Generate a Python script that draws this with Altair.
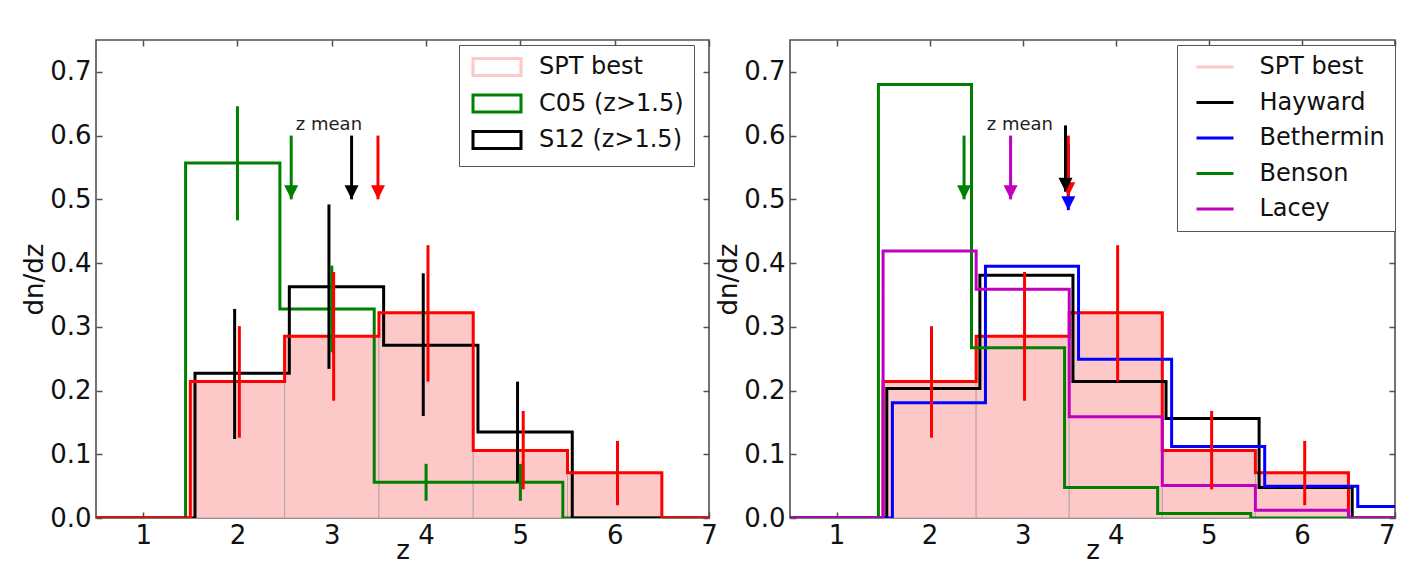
import altair as alt
import pandas as pd

FONT = "DejaVu Sans"
W_LEFT, W_RIGHT, H = 613, 605, 478

X_DOMAIN = [0.5, 7.0]
Y_DOMAIN = [0.0, 0.75]
X_TICKS = [1, 2, 3, 4, 5, 6, 7]
Y_TICKS = [0.0, 0.1, 0.2, 0.3, 0.4, 0.5, 0.6, 0.7]

RED, GREEN, BLACK, BLUE, MAG = "#ff0000", "#008000", "#000000", "#0000ff", "#bf00bf"
PINK = "#fcc8c8"

# ---- SPT best (both panels) ----
spt_name = "SPT best"
spt_edges = [1.5, 2.5, 3.5, 4.5, 5.5, 6.5]
spt_vals = [0.214, 0.285, 0.322, 0.106, 0.071]
spt_err_x = [2.02, 3.02, 4.02, 5.03, 6.03]
spt_err_lo = [0.126, 0.184, 0.214, 0.045, 0.020]
spt_err_hi = [0.301, 0.386, 0.428, 0.168, 0.121]

# ---- left panel ----
c05_name = "C05 (z>1.5)"
c05_edges = [1.45, 2.45, 3.45, 4.45, 5.45]
c05_vals = [0.557, 0.328, 0.056, 0.056]
c05_err_x = [2.0, 3.0, 4.0, 5.0]
c05_err_lo = [0.467, 0.260, 0.027, 0.027]
c05_err_hi = [0.646, 0.396, 0.085, 0.085]

s12_name = "S12 (z>1.5)"
s12_edges = [1.55, 2.55, 3.55, 4.55, 5.55]
s12_vals = [0.227, 0.363, 0.271, 0.135]
s12_err_x = [1.97, 2.97, 3.97, 4.97]
s12_err_lo = [0.124, 0.234, 0.160, 0.056]
s12_err_hi = [0.328, 0.492, 0.384, 0.214]

left_mean_names = [c05_name, s12_name, spt_name]
left_mean_z = [2.57, 3.21, 3.49]
left_mean_top = [0.60, 0.60, 0.60]
left_mean_tip = [0.50, 0.50, 0.50]

# ---- right panel ----
hay_name, bet_name, ben_name, lac_name = "Hayward", "Bethermin", "Benson", "Lacey"
hay_edges = [1.54, 2.54, 3.54, 4.54, 5.54, 6.54]
hay_vals = [0.203, 0.381, 0.214, 0.156, 0.048]
bet_edges = [1.6, 2.6, 3.6, 4.6, 5.6, 6.6, 7.6]
bet_vals = [0.181, 0.395, 0.249, 0.112, 0.050, 0.018]
ben_edges = [1.45, 2.45, 3.45, 4.45, 5.45]
ben_vals = [0.680, 0.267, 0.048, 0.007]
lac_edges = [1.5, 2.5, 3.5, 4.5, 5.5, 6.5]
lac_vals = [0.419, 0.359, 0.159, 0.051, 0.012]

right_mean_names = [ben_name, lac_name, bet_name, spt_name, hay_name]
right_mean_z = [2.37, 2.87, 3.49, 3.49, 3.46]
right_mean_top = [0.60, 0.60, 0.587, 0.60, 0.616]
right_mean_tip = [0.50, 0.50, 0.483, 0.505, 0.512]

note_x = [2.97]
note_y = [0.617]
note_text = ["z mean"]

# legend symbol outlines (unit = 5 px at symbolSize 100), drawn as open strokes
OPEN_RECT = "M-5.1,-1.7H5.1M4.8,-2V2M5.1,1.7H-5.1M-4.8,2V-2"
LINE_PATH = "M-3.7,0H3.7"
HEAD_PATH = "M-1,-1H1L0,1Z"


def step_table(series):
    rows = []
    for name, edges, vals in series:
        xs = [X_DOMAIN[0]] + list(edges)
        ys = [0.0] + list(vals) + [0.0]
        if edges[-1] < X_DOMAIN[1]:
            xs.append(X_DOMAIN[1])
            ys.append(0.0)
        for x, y in zip(xs, ys):
            rows.append({"series": name, "x": x, "y": y})
    return pd.DataFrame(rows)


def err_table(series):
    rows = []
    for name, ex, lo, hi in series:
        for a, b, c in zip(ex, lo, hi):
            rows.append({"series": name, "ex": a, "lo": b, "hi": c})
    return pd.DataFrame(rows)


def make_axes(width, flush_last):
    x_main = alt.Axis(orient="bottom", values=X_TICKS, format="d", ticks=False,
                      domain=False, grid=False, labelFlush=flush_last, labelOverlap=False,
                      labelFontSize=26, labelPadding=4, title="z", titleFontSize=26,
                      titlePadding=-11, titleFontWeight="normal")
    x_in_bot = alt.Axis(orient="top", offset=-H, values=X_TICKS, labels=False, ticks=True,
                        tickSize=6, domain=False, grid=False, title=None)
    x_in_top = alt.Axis(orient="bottom", offset=-H, values=X_TICKS, labels=False, ticks=True,
                        tickSize=6, domain=False, grid=False, title=None)
    y_main = alt.Axis(orient="left", values=Y_TICKS, format=".1f", ticks=False,
                      domain=False, grid=False, labelFlush=False, labelOverlap=False,
                      labelFontSize=26, labelPadding=5, title="dn/dz", titleFontSize=26,
                      titlePadding=2, titleFontWeight="normal")
    y_in_left = alt.Axis(orient="right", offset=-width, values=Y_TICKS, labels=False,
                         ticks=True, tickSize=6, domain=False, grid=False, title=None)
    y_in_right = alt.Axis(orient="left", offset=-width, values=Y_TICKS, labels=False,
                          ticks=True, tickSize=6, domain=False, grid=False, title=None)
    return x_main, x_in_bot, x_in_top, y_main, y_in_left, y_in_right


def panel(width, model_steps, spt_first, errs, means, names, vals, legend_colors, symbol,
          leg_pos, row_pad, label_off, flush_last):
    xs = alt.Scale(domain=X_DOMAIN, nice=False, zero=False)
    ys = alt.Scale(domain=Y_DOMAIN, nice=False, zero=False)
    sscale = alt.Scale(domain=names, range=vals)
    lscale = alt.Scale(domain=names, range=legend_colors)
    x_main, x_in_bot, x_in_top, y_main, y_in_left, y_in_right = make_axes(width, flush_last)

    bars_df = pd.DataFrame({"x0": spt_edges[:-1], "x1": spt_edges[1:], "v": spt_vals})
    bars = alt.Chart(bars_df).mark_rect(fill=PINK, stroke="#b9a6a6", strokeWidth=1).encode(
        x=alt.X("x0:Q", scale=xs, axis=x_main),
        x2="x1:Q",
        y=alt.Y("v:Q", scale=ys, axis=y_main),
        y2=alt.datum(0),
    )

    spt_line = alt.Chart(step_table([(spt_name, spt_edges, spt_vals)])).mark_line(
        interpolate="step-after", strokeWidth=3, clip=True, color=RED).encode(
        x=alt.X("x:Q", scale=xs, axis=None),
        y=alt.Y("y:Q", scale=ys, axis=None),
    )

    legend = alt.Legend(title=None, orient="none", legendX=leg_pos[0], legendY=leg_pos[1],
                        labelFont=FONT, labelFontSize=24, labelColor="#111", labelLimit=400,
                        symbolType=symbol, symbolSize=100, symbolStrokeWidth=3,
                        symbolOffset=16, labelOffset=label_off, padding=10,
                        rowPadding=row_pad, strokeColor="#555", fillColor="white")
    lines = alt.Chart(step_table(model_steps)).mark_line(
        interpolate="step-after", strokeWidth=3, clip=True).encode(
        x=alt.X("x:Q", scale=xs, axis=x_in_bot),
        y=alt.Y("y:Q", scale=ys, axis=y_in_left),
        color=alt.Color("series:N", scale=lscale, legend=legend),
    )

    ebars = alt.Chart(err_table(errs)).mark_rule(strokeWidth=3).encode(
        x=alt.X("ex:Q", scale=xs, axis=x_in_top),
        y=alt.Y("lo:Q", scale=ys, axis=y_in_right),
        y2="hi:Q",
        stroke=alt.Stroke("series:N", scale=sscale, legend=None),
    )

    mnames, mz, mtop, mtip = means
    mean_df = pd.DataFrame({"series": mnames, "az": mz, "atop": mtop, "atip": mtip})
    shafts = alt.Chart(mean_df).mark_rule(strokeWidth=3).encode(
        x=alt.X("az:Q", scale=xs, axis=None),
        y=alt.Y("atop:Q", scale=ys, axis=None),
        y2="atip:Q",
        stroke=alt.Stroke("series:N", scale=sscale, legend=None),
    )
    heads = alt.Chart(mean_df).mark_point(shape=HEAD_PATH, size=196, filled=True,
                                          opacity=1, strokeWidth=0, yOffset=-7).encode(
        x=alt.X("az:Q", scale=xs, axis=None),
        y=alt.Y("atip:Q", scale=ys, axis=None),
        fill=alt.Fill("series:N", scale=sscale, legend=None),
    )

    note_df = pd.DataFrame({"nx": note_x, "ny": note_y, "nt": note_text})
    note = alt.Chart(note_df).mark_text(fontSize=18, font=FONT, color="#222",
                                        align="center", baseline="middle").encode(
        x=alt.X("nx:Q", scale=xs, axis=None),
        y=alt.Y("ny:Q", scale=ys, axis=None),
        text="nt:N",
    )

    if spt_first:
        layers = [bars, spt_line, lines]
    else:
        layers = [bars, lines, spt_line]
    layers += [ebars, shafts, heads, note]
    return alt.layer(*layers).resolve_axis(
        x="independent", y="independent").properties(width=width, height=H)


left = panel(
    width=W_LEFT,
    model_steps=[(c05_name, c05_edges, c05_vals), (s12_name, s12_edges, s12_vals)],
    spt_first=False,
    errs=[(s12_name, s12_err_x, s12_err_lo, s12_err_hi),
          (c05_name, c05_err_x, c05_err_lo, c05_err_hi),
          (spt_name, spt_err_x, spt_err_lo, spt_err_hi)],
    means=(left_mean_names, left_mean_z, left_mean_top, left_mean_tip),
    names=[spt_name, c05_name, s12_name],
    vals=[RED, GREEN, BLACK],
    legend_colors=[PINK, GREEN, BLACK],
    symbol=OPEN_RECT,
    leg_pos=(363, 5),
    row_pad=4.5,
    label_off=30,
    flush_last=False,
)

right = panel(
    width=W_RIGHT,
    model_steps=[(hay_name, hay_edges, hay_vals), (bet_name, bet_edges, bet_vals),
                 (ben_name, ben_edges, ben_vals), (lac_name, lac_edges, lac_vals)],
    spt_first=True,
    errs=[(spt_name, spt_err_x, spt_err_lo, spt_err_hi)],
    means=(right_mean_names, right_mean_z, right_mean_top, right_mean_tip),
    names=[spt_name, hay_name, bet_name, ben_name, lac_name],
    vals=[RED, BLACK, BLUE, GREEN, MAG],
    legend_colors=[PINK, BLACK, BLUE, GREEN, MAG],
    symbol=LINE_PATH,
    leg_pos=(387, 5),
    row_pad=11.5,
    label_off=32.5,
    flush_last=True,
)

chart = alt.hconcat(left, right, spacing=81, bounds="flush").resolve_scale(
    color="independent", fill="independent", stroke="independent"
).configure(
    font=FONT,
    background="white",
    padding={"left": 12, "top": 30, "right": 0, "bottom": 0},
).configure_view(
    stroke="#505050", strokeWidth=1.6, fill="white"
).configure_axis(
    labelFont=FONT, titleFont=FONT, labelColor="#111", titleColor="#111",
    tickColor="#505050", tickWidth=1.5,
)

chart.save("out.html", embed_options={"renderer": "svg", "actions": False})
